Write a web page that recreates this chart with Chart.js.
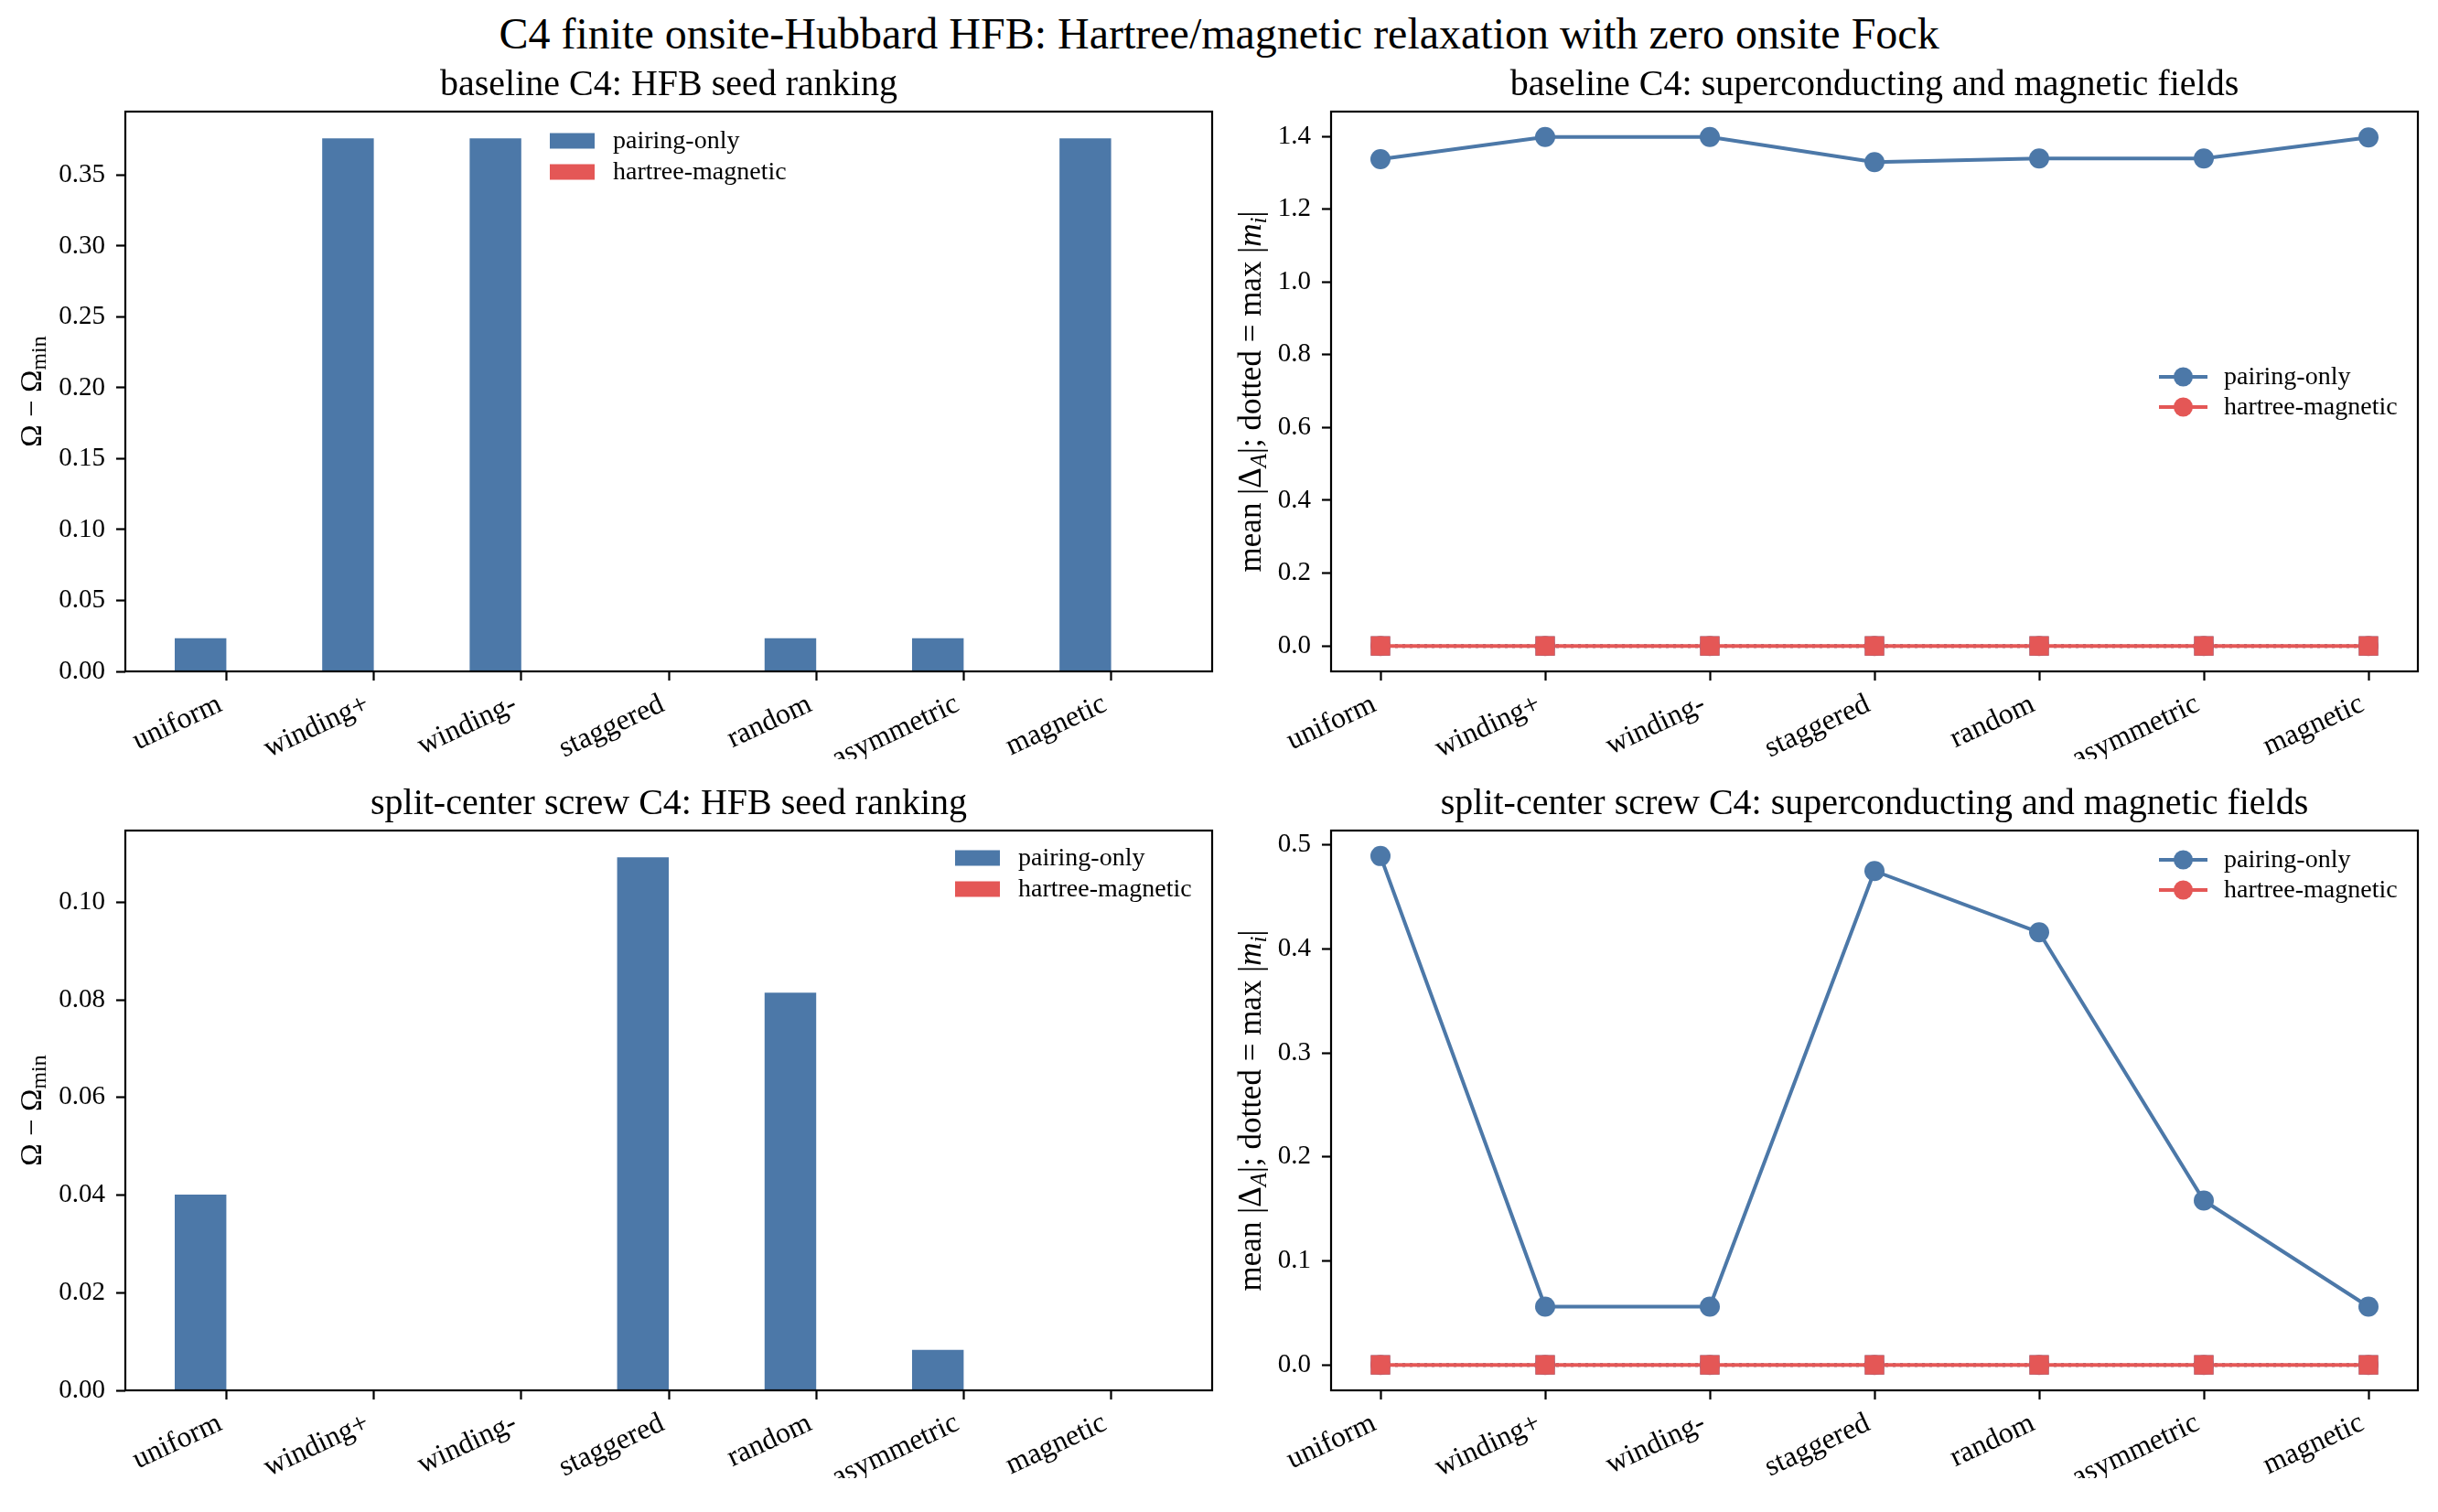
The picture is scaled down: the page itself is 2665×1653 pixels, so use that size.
<!DOCTYPE html>
<html>
<head>
<meta charset="utf-8">
<script src="https://cdn.jsdelivr.net/npm/chart.js@4.4.1/dist/chart.umd.min.js"></script>
<style>
  body { margin: 0; background: #fff; width: 2665px; height: 1653px; position: relative; overflow: hidden; }
  canvas { position: absolute; }
  #suptitle {
    position: absolute; left: 0; top: 11px; width: 2665px; text-align: center;
    font: 48px "Liberation Serif", serif; color: #000; line-height: 52px;
  }
</style>
</head>
<body>
<div id="suptitle">C4 finite onsite-Hubbard HFB: Hartree/magnetic relaxation with zero onsite Fock</div>
<canvas id="tl" width="1340" height="770" style="left:0px;top:60px"></canvas>
<canvas id="tr" width="1325" height="770" style="left:1340px;top:60px"></canvas>
<canvas id="bl" width="1340" height="770" style="left:0px;top:846px"></canvas>
<canvas id="br" width="1325" height="770" style="left:1340px;top:846px"></canvas>
<script>
// seeds on the x axis
const seeds = ["uniform", "winding+", "winding-", "staggered", "random", "asymmetric", "magnetic"];

// baseline C4
const baseOmegaPairing = [0.0234, 0.376, 0.376, 0, 0.0234, 0.0234, 0.376];
const baseOmegaHartree = [0, 0, 0, 0, 0, 0, 0];
const baseGapPairing = [1.337, 1.398, 1.398, 1.329, 1.339, 1.339, 1.397];
const baseGapHartree = [0, 0, 0, 0, 0, 0, 0];
const baseMagPairing = [0, 0, 0, 0, 0, 0, 0];
const baseMagHartree = [0, 0, 0, 0, 0, 0, 0];

// split-center screw C4
const screwOmegaPairing = [0.0401, 0, 0, 0.1092, 0.0815, 0.0083, 0];
const screwOmegaHartree = [0, 0, 0, 0, 0, 0, 0];
const screwGapPairing = [0.4894, 0.056, 0.056, 0.475, 0.416, 0.158, 0.056];
const screwGapHartree = [0, 0, 0, 0, 0, 0, 0];
const screwMagPairing = [0, 0, 0, 0, 0, 0, 0];
const screwMagHartree = [0, 0, 0, 0, 0, 0, 0];

// y tick values
const baseOmegaTicks = [0, 0.05, 0.10, 0.15, 0.20, 0.25, 0.30, 0.35];
const baseGapTicks = [0, 0.2, 0.4, 0.6, 0.8, 1.0, 1.2, 1.4];
const screwOmegaTicks = [0, 0.02, 0.04, 0.06, 0.08, 0.10];
const screwGapTicks = [0, 0.1, 0.2, 0.3, 0.4, 0.5];

const BLUE = "#4c78a8";
const RED = "#e45756";
const FONT = '"Liberation Serif", serif';
const XLABEL_SIZE = 32;
const ROT = 25 * Math.PI / 180;

Chart.defaults.font.family = FONT;
Chart.defaults.color = "#000";

const toXY = (arr) => arr.map((v, i) => ({ x: i, y: v }));

// rotated y label with sub/italic pieces
function drawRich(ctx, segs, cx, cy) {
  ctx.save();
  ctx.translate(cx, cy);
  ctx.rotate(-Math.PI / 2);
  ctx.textBaseline = "middle";
  ctx.textAlign = "left";
  let total = 0;
  segs.forEach((s) => {
    ctx.font = s.font;
    total += ctx.measureText(s.t).width;
  });
  let x = -total / 2;
  segs.forEach((s) => {
    ctx.font = s.font;
    ctx.fillText(s.t, x, s.dy || 0);
    x += ctx.measureText(s.t).width;
  });
  ctx.restore();
}

const decor = {
  id: "decor",
  afterDraw(chart, args, opts) {
    const { ctx, chartArea: a } = chart;
    ctx.save();
    ctx.strokeStyle = "#000";
    ctx.lineWidth = 2.2;
    ctx.strokeRect(a.left, a.top, a.right - a.left, a.bottom - a.top);

    ctx.fillStyle = "#000";
    ctx.font = "40px " + FONT;
    ctx.textAlign = "center";
    ctx.textBaseline = "alphabetic";
    ctx.fillText(opts.title, (a.left + a.right) / 2, a.top - 18);

    drawRich(ctx, opts.ylabel, opts.ylabelX, (a.top + a.bottom) / 2);

    // x tick labels: rotated, right end / top of their box at the tick
    const xs = chart.scales.x;
    ctx.font = XLABEL_SIZE + "px " + FONT;
    xs.ticks.forEach((t) => {
      const px = xs.getPixelForValue(t.value);
      ctx.save();
      ctx.translate(px, a.bottom + 20 + Math.cos(ROT) * XLABEL_SIZE);
      ctx.rotate(-ROT);
      ctx.textAlign = "right";
      ctx.textBaseline = "bottom";
      ctx.fillText(seeds[Math.round(t.value)], 0, 0);
      ctx.restore();
    });

    // legend
    const lg = opts.legend;
    ctx.font = "28px " + FONT;
    ctx.textAlign = "left";
    ctx.textBaseline = "middle";
    lg.items.forEach((di, k) => {
      const ds = chart.data.datasets[di];
      const x0 = a.left + lg.x;
      const yc = a.top + lg.y + k * lg.gap;
      const col = ds.backgroundColor;
      if (lg.kind === "bar") {
        ctx.fillStyle = col;
        ctx.fillRect(x0, yc - 8.5, 49, 17);
        ctx.fillStyle = "#000";
        ctx.fillText(ds.label, x0 + 69, yc + 1);
      } else {
        ctx.strokeStyle = col;
        ctx.lineWidth = 4;
        ctx.beginPath();
        ctx.moveTo(x0, yc);
        ctx.lineTo(x0 + 53, yc);
        ctx.stroke();
        ctx.fillStyle = col;
        ctx.beginPath();
        ctx.arc(x0 + 26.5, yc, 10.5, 0, Math.PI * 2);
        ctx.fill();
        ctx.fillStyle = "#000";
        ctx.fillText(ds.label, x0 + 71, yc + 1);
      }
    });
    ctx.restore();
  },
};

function xScale(min, max) {
  return {
    type: "linear",
    min: min,
    max: max,
    bounds: "data",
    offset: false,
    afterBuildTicks: (s) => { s.ticks = seeds.map((_, i) => ({ value: i })); },
    afterFit: (s) => { s.height = 90; },
    ticks: { display: false },
    grid: { drawOnChartArea: false, offset: false, tickLength: 10, tickWidth: 2.2, tickColor: "#000" },
    border: { display: false },
  };
}

function yScale(min, max, ticks, digits, width) {
  return {
    type: "linear",
    min: min,
    max: max,
    bounds: "data",
    afterBuildTicks: (s) => { s.ticks = ticks.map((v) => ({ value: v })); },
    afterFit: (s) => { s.width = width; },
    ticks: {
      padding: 12,
      font: { size: 29 },
      callback: (v) => Number(v).toFixed(digits),
    },
    grid: { drawOnChartArea: false, tickLength: 10, tickWidth: 2.2, tickColor: "#000" },
    border: { display: false },
  };
}

const omegaLabel = [
  { t: "Ω − Ω", font: "33px " + FONT },
  { t: "min", font: "24px " + FONT, dy: 8 },
];
const gapLabel = [
  { t: "mean |Δ", font: "35px " + FONT },
  { t: "A", font: "italic 25px " + FONT, dy: 8 },
  { t: "|; dotted = max |", font: "35px " + FONT },
  { t: "m", font: "italic 35px " + FONT },
  { t: "i", font: "italic 25px " + FONT, dy: 8 },
  { t: "|", font: "35px " + FONT },
];

function barChart(id, title, pairing, hartree, ymax, ticks, legendPos) {
  return new Chart(document.getElementById(id), {
    type: "bar",
    data: {
      datasets: [
        { label: "pairing-only", data: toXY(pairing), backgroundColor: BLUE },
        { label: "hartree-magnetic", data: toXY(hartree), backgroundColor: RED },
      ],
    },
    options: {
      responsive: false,
      animation: false,
      devicePixelRatio: 1,
      categoryPercentage: 0.7,
      barPercentage: 1.0,
      layout: { padding: { left: 0, top: 62, right: 15, bottom: 6 } },
      scales: {
        x: xScale(-0.685, 6.685),
        y: yScale(0, ymax, ticks, 2, 137),
      },
      plugins: {
        legend: { display: false },
        tooltip: { enabled: false },
        decor: {
          title: title,
          ylabel: omegaLabel,
          ylabelX: 36,
          legend: Object.assign({ kind: "bar", items: [0, 1], gap: 34 }, legendPos),
        },
      },
    },
    plugins: [decor],
  });
}

function lineSet(label, values, color, style, order) {
  const square = style === "rect";
  return {
    label: label,
    data: toXY(values),
    borderColor: color,
    backgroundColor: color,
    pointBackgroundColor: color,
    pointBorderWidth: 0,
    pointStyle: style,
    pointRadius: square ? 15 : 11,
    borderWidth: 4,
    borderDash: square ? [3, 5] : [],
    tension: 0,
    fill: false,
    order: order,
  };
}

function lineChart(id, title, gP, gH, mP, mH, ymin, ymax, ticks, legendPos) {
  return new Chart(document.getElementById(id), {
    type: "line",
    data: {
      datasets: [
        lineSet("pairing-only", gP, BLUE, "circle", 4),
        lineSet("hartree-magnetic", gH, RED, "circle", 3),
        lineSet("pairing-only max |m|", mP, BLUE, "rect", 2),
        lineSet("hartree-magnetic max |m|", mH, RED, "rect", 1),
      ],
    },
    options: {
      responsive: false,
      animation: false,
      devicePixelRatio: 1,
      layout: { padding: { left: 0, top: 62, right: 22, bottom: 6 } },
      scales: {
        x: xScale(-0.3, 6.3),
        y: yScale(ymin, ymax, ticks, 1, 115),
      },
      plugins: {
        legend: { display: false },
        tooltip: { enabled: false },
        decor: {
          title: title,
          ylabel: gapLabel,
          ylabelX: 29,
          legend: Object.assign({ kind: "line", items: [0, 1], gap: 33 }, legendPos),
        },
      },
    },
    plugins: [decor],
  });
}

barChart("tl", "baseline C4: HFB seed ranking", baseOmegaPairing, baseOmegaHartree,
  0.3948, baseOmegaTicks, { x: 464, y: 32 });
lineChart("tr", "baseline C4: superconducting and magnetic fields",
  baseGapPairing, baseGapHartree, baseMagPairing, baseMagHartree,
  -0.0699, 1.4679, baseGapTicks, { x: 905, y: 290 });
barChart("bl", "split-center screw C4: HFB seed ranking", screwOmegaPairing, screwOmegaHartree,
  0.1147, screwOmegaTicks, { x: 907, y: 30 });
lineChart("br", "split-center screw C4: superconducting and magnetic fields",
  screwGapPairing, screwGapHartree, screwMagPairing, screwMagHartree,
  -0.0245, 0.5139, screwGapTicks, { x: 905, y: 32 });
</script>
</body>
</html>
